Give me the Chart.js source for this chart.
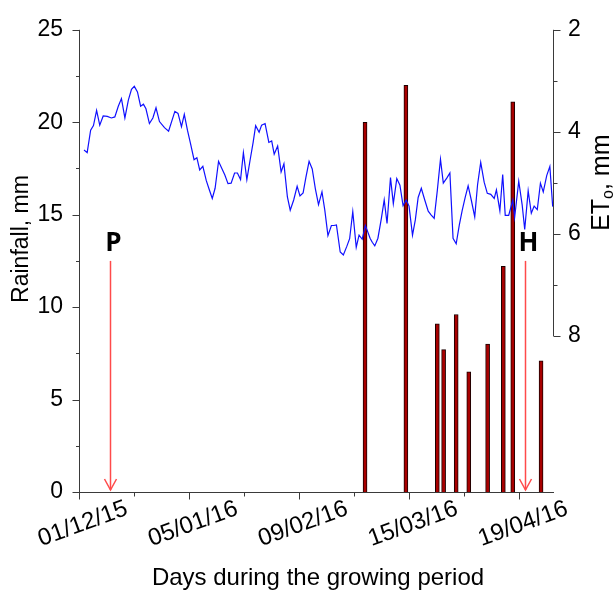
<!DOCTYPE html>
<html>
<head>
<meta charset="utf-8">
<script src="https://cdn.jsdelivr.net/npm/chart.js@4.4.1/dist/chart.umd.min.js"></script>
<style>
html, body { margin: 0; padding: 0; background: #fff; }
#wrap { width: 615px; height: 594px; }
</style>
</head>
<body>
<div id="wrap"><canvas id="chart" width="615" height="594"></canvas></div>
<script>
// Days are counted from 01/12/2015
const X_TICK_DAYS = [0, 35, 70, 105, 140];
const X_TICK_LABELS = ['01/12/15', '05/01/16', '09/02/16', '15/03/16', '19/04/16'];

// Rainfall events (mm)
const rainDays = [91, 104, 114, 116, 120, 124, 130, 135, 138, 147];
const rainMm = [20.0, 22.0, 9.1, 7.7, 9.6, 6.5, 8.0, 12.2, 21.1, 7.1];

// Reference evapotranspiration ETo (mm), right axis
const etDays = [
    1.6, 2.6, 3.7, 4.6, 5.6, 6.6, 7.7, 9.0, 10.3, 11.4,
    12.5, 13.5, 14.6, 15.7, 16.7, 17.6, 18.6, 19.6, 20.5, 21.3,
    22.4, 23.5, 24.5, 25.6, 27.2, 28.5, 30.5, 31.5, 32.6, 33.5,
    34.5, 35.5, 36.6, 37.5, 38.4, 39.4, 40.5, 41.4, 42.4, 43.3,
    44.4, 45.3, 46.4, 47.4, 48.4, 49.5, 50.4, 51.4, 52.3, 53.4,
    54.4, 55.4, 56.2, 57.3, 58.1, 59.2, 60.4, 61.3, 62.1, 63.2,
    64.3, 65.2, 66.3, 67.2, 68.3, 69.4, 70.3, 71.3, 72.2, 73.2,
    74.2, 75.2, 76.2, 77.3, 78.2, 79.2, 80.3, 81.1, 81.9, 83.1,
    84.1, 85.2, 86.1, 87.1, 88.2, 89.1, 90.1, 91.1, 91.9, 92.6,
    93.3, 94.1, 95.1, 96.2, 97.1, 98.0, 99.1, 100.0, 101.1, 102.1,
    103.1, 104.1, 105.0, 106.1, 107.0, 107.9, 108.9, 110.0, 111.1, 112.0,
    113.0, 114.0, 115.0, 115.9, 117.0, 118.0, 119.0, 120.0, 121.0, 121.9,
    122.9, 123.8, 124.8, 125.9, 126.8, 127.8, 128.9, 129.9, 131.0, 132.1,
    132.8, 133.9, 134.8, 135.6, 136.7, 138.0, 138.6, 139.9, 141.0,
    141.8, 142.9, 143.9, 144.8, 145.8, 146.8, 147.7, 148.8, 149.8, 150.7
];
const etMm = [
    4.36, 4.41, 3.97, 3.88, 3.58, 3.87, 3.69, 3.70, 3.73, 3.71,
    3.50, 3.35, 3.73, 3.38, 3.17, 3.11, 3.22, 3.50, 3.46, 3.55,
    3.84, 3.73, 3.53, 3.80, 3.92, 3.99, 3.60, 3.64, 3.90, 3.66,
    3.97, 4.24, 4.55, 4.51, 4.75, 4.68, 4.96, 5.13, 5.31, 5.11,
    4.58, 4.70, 4.85, 5.02, 5.01, 4.81, 4.81, 4.94, 4.41, 4.94,
    4.57, 4.21, 3.88, 4.01, 3.87, 3.84, 4.21, 4.18, 4.44, 4.28,
    4.79, 4.63, 5.28, 5.54, 5.34, 5.07, 5.26, 5.20, 4.89, 4.58,
    4.73, 5.12, 5.43, 5.18, 5.54, 6.04, 5.84, 5.84, 5.83, 6.36,
    6.42, 6.25, 6.10, 5.57, 6.27, 6.03, 6.11, 5.84, 5.97, 6.09,
    6.17, 6.24, 6.09, 5.70, 5.34, 5.80, 4.90, 5.41, 4.92, 5.05,
    5.45, 5.34, 5.46, 6.03, 5.73, 5.29, 5.11, 5.34, 5.56, 5.63,
    5.70, 5.15, 4.54, 5.01, 4.91, 4.81, 6.09, 6.20, 5.83, 5.55,
    5.28, 5.06, 5.34, 5.67, 5.04, 4.60, 4.99, 5.21, 5.23, 5.31,
    5.14, 5.55, 4.84, 5.64, 5.64, 5.34, 5.68, 4.97, 5.44,
    5.92, 5.16, 5.60, 5.46, 5.53, 5.01, 5.18, 4.86, 4.68, 5.47
];

// Planting and harvest markers
const markerDays = [10, 142];
const markerLabels = ['P', 'H'];
const MARKER_TOP_MM = 12.5;

const AXIS_COLOR = '#3a3a3a';
const TEXT_FONT = '"Liberation Sans", Arial, sans-serif';
const ARROW_COLOR = '#ff4a4a';

function line(ctx, x1, y1, x2, y2) {
    ctx.beginPath();
    ctx.moveTo(x1, y1);
    ctx.lineTo(x2, y2);
    ctx.stroke();
}

// Axis lines, ticks, rotated date labels, titles and P/H arrows
const decorPlugin = {
    id: 'decor',
    afterDraw(chart) {
        const { ctx, chartArea: a, scales } = chart;
        const xs = scales.x, ys = scales.y, ys2 = scales.y2;
        ctx.save();
        ctx.strokeStyle = AXIS_COLOR;
        ctx.lineWidth = 1;

        // left axis
        const lx = a.left + 0.5;
        line(ctx, lx, a.top, lx, a.bottom + 0.5);
        for (let v = 0; v <= 25; v += 2.5) {
            const py = Math.round(ys.getPixelForValue(v)) + 0.5;
            line(ctx, lx, py, lx - (v % 5 === 0 ? 7 : 3.5), py);
        }

        // bottom axis
        const by = a.bottom + 0.5;
        line(ctx, a.left, by, a.right + 1, by);
        for (let d = 0; d <= 140; d += 17.5) {
            const px = Math.round(xs.getPixelForValue(d)) + 0.5;
            line(ctx, px, by, px, by + (d % 35 === 0 ? 7 : 4));
        }

        // right axis (only 2..8 drawn)
        const rx = a.right + 0.5;
        line(ctx, rx, ys2.getPixelForValue(2), rx, ys2.getPixelForValue(8) + 0.5);
        for (let v = 2; v <= 8; v++) {
            const py = Math.round(ys2.getPixelForValue(v)) + 0.5;
            line(ctx, rx, py, rx + (v % 2 === 0 ? 7 : 4), py);
        }

        // rotated date labels
        ctx.fillStyle = '#000';
        ctx.font = '24px ' + TEXT_FONT;
        ctx.textAlign = 'center';
        ctx.textBaseline = 'middle';
        X_TICK_DAYS.forEach((d, i) => {
            const px = xs.getPixelForValue(d);
            ctx.save();
            ctx.translate(px + 4, a.bottom + 32);
            ctx.rotate(-20 * Math.PI / 180);
            ctx.fillText(X_TICK_LABELS[i], 0, 0);
            ctx.restore();
        });

        // axis titles
        ctx.font = '24px ' + TEXT_FONT;
        ctx.fillText('Days during the growing period', (a.left + a.right) / 2 + 2, 578);

        ctx.font = '23px ' + TEXT_FONT;
        ctx.save();
        ctx.translate(22, 239);
        ctx.rotate(-Math.PI / 2);
        ctx.fillText('Rainfall, mm', 0, 0);
        ctx.restore();

        // right title ET(o), mm with subscript
        ctx.save();
        const midY = (ys2.getPixelForValue(2) + ys2.getPixelForValue(8)) / 2;
        ctx.translate(602, midY);
        ctx.rotate(-Math.PI / 2);
        ctx.textAlign = 'left';
        const mainFont = '25px ' + TEXT_FONT, subFont = '16px ' + TEXT_FONT;
        ctx.font = mainFont;
        const wET = ctx.measureText('ET').width;
        const wRest = ctx.measureText(', mm').width;
        ctx.font = subFont;
        const wSub = ctx.measureText('o').width;
        let tx = -(wET + wSub + wRest) / 2;
        ctx.font = mainFont;
        ctx.fillText('ET', tx, 0);
        tx += wET;
        ctx.font = subFont;
        ctx.fillText('o', tx, 7);
        tx += wSub;
        ctx.font = mainFont;
        ctx.fillText(', mm', tx, 0);
        ctx.restore();

        // P / H arrows
        ctx.strokeStyle = ARROW_COLOR;
        ctx.lineWidth = 1.5;
        ctx.fillStyle = '#000';
        ctx.font = 'bold 26px "Open Sans", "DejaVu Sans", sans-serif';
        ctx.textAlign = 'center';
        ctx.textBaseline = 'alphabetic';
        markerDays.forEach((d, i) => {
            const px = Math.round(xs.getPixelForValue(d)) + 0.5;
            const top = ys.getPixelForValue(MARKER_TOP_MM);
            const bottom = ys.getPixelForValue(0) - 2;
            line(ctx, px, top, px, bottom);
            ctx.beginPath();
            ctx.moveTo(px - 6, bottom - 11);
            ctx.lineTo(px, bottom);
            ctx.lineTo(px + 6, bottom - 11);
            ctx.stroke();
            ctx.fillText(markerLabels[i], px + 3, top - 10);
        });
        ctx.restore();
    }
};

const ctx = document.getElementById('chart').getContext('2d');
new Chart(ctx, {
    data: {
        datasets: [
            {
                type: 'line',
                label: 'ETo',
                data: etDays.map((d, i) => ({ x: d, y: etMm[i] })),
                yAxisID: 'y2',
                borderColor: '#1010ff',
                borderWidth: 1.2,
                pointRadius: 0,
                tension: 0,
                order: 1
            },
            {
                type: 'bar',
                label: 'Rainfall',
                data: rainDays.map((d, i) => ({ x: d, y: rainMm[i] })),
                yAxisID: 'y',
                backgroundColor: '#a80000',
                borderColor: '#1a0000',
                borderWidth: 1,
                barThickness: 4,
                order: 2
            }
        ]
    },
    options: {
        responsive: false,
        animation: false,
        devicePixelRatio: 1,
        layout: { padding: { top: 23, left: 0, right: 0, bottom: 0 } },
        plugins: {
            legend: { display: false },
            tooltip: { enabled: false }
        },
        scales: {
            x: {
                type: 'linear',
                position: 'bottom',
                offset: false,
                min: 0,
                max: 150.8,
                grid: { display: false, drawTicks: false },
                border: { display: false },
                ticks: { display: false },
                afterFit: s => { s.height = 102; }
            },
            y: {
                position: 'left',
                min: 0,
                max: 25,
                grid: { display: false, drawTicks: false },
                border: { display: false },
                ticks: {
                    stepSize: 5,
                    padding: 16,
                    color: '#000',
                    font: { family: TEXT_FONT, size: 23 }
                },
                afterFit: s => { s.width = 79; }
            },
            y2: {
                position: 'right',
                reverse: true,
                min: 2,
                max: 11.07,
                grid: { display: false, drawTicks: false },
                border: { display: false },
                ticks: {
                    stepSize: 1,
                    padding: 15,
                    color: '#000',
                    font: { family: TEXT_FONT, size: 23 },
                    callback: v => (v <= 8 && v % 2 === 0) ? v : null
                },
                afterFit: s => { s.width = 62; }
            }
        }
    },
    plugins: [decorPlugin]
});
</script>
</body>
</html>
